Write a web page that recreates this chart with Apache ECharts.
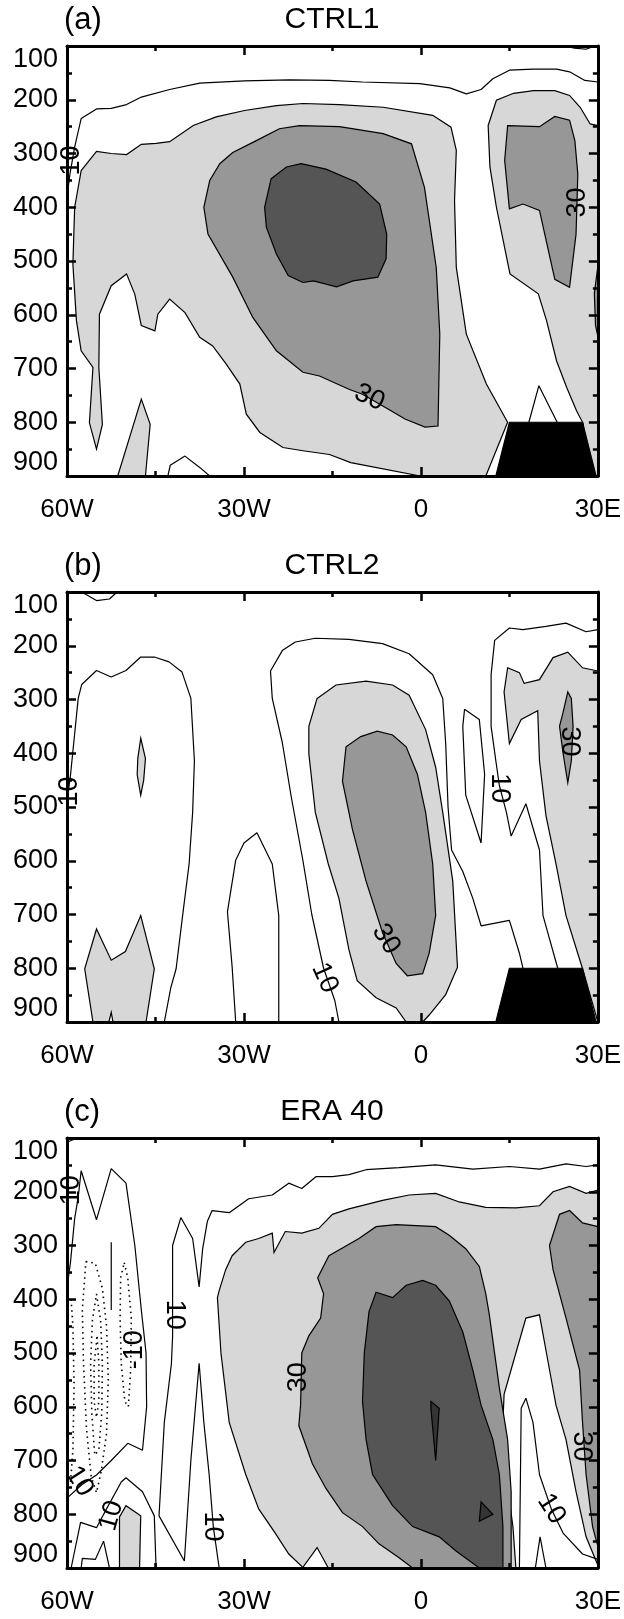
<!DOCTYPE html>
<html>
<head>
<meta charset="UTF-8">
<title>CTRL1 / CTRL2 / ERA 40</title>
<script src="https://cdn.jsdelivr.net/npm/echarts@6/dist/echarts.min.js"></script>
<style>
  html, body { margin: 0; padding: 0; background: #fff; }
  #main { width: 624px; height: 1619px; }
</style>
</head>
<body>
<div id="main"></div>
<script type="text/javascript">
// axes (longitude, pressure hPa)
var xTicks = [-60, -30, 0, 30];
var xTickLabels = ['60W', '30W', '0', '30E'];
var yTicks = [100, 200, 300, 400, 500, 600, 700, 800, 900];
var panelTitles = ['(a)', '(b)', '(c)'];
var panelNames = ['CTRL1', 'CTRL2', 'ERA 40'];

// ---- panel (a) CTRL1 : [lon, p] vertices
var aLines = [
  [[-60,381],[-59.5,338],[-58.7,288],[-57.6,235],[-55,217],[-52.5,216],[-49.9,209],[-47.4,195],[-42.6,181],[-37.5,169],[-29.9,165],[-22.3,163],[-15.5,164],[-9.9,167],[-0.2,170],[4.9,178],[7.7,189],[10.2,181],[12.2,161],[15,145],[19,143],[23,143],[25.2,148],[27.8,164],[30,167]],
  [[-42.9,900],[-42.5,880],[-40,863],[-37.5,884],[-35.8,900]],
  [[18.3,800],[20,732],[23.1,800]]
];
var aFill20 = [
  [[-57.6,332],[-55,296],[-52.5,300],[-49.9,302],[-47.4,283],[-44.9,281],[-42.6,278],[-38.6,248],[-34.7,232],[-29.9,220],[-24.5,211],[-20,207],[-13.8,209],[-6.4,214],[2,229],[5.1,251],[6,294],[5.7,388],[6,512],[7.7,636],[11.1,729],[14.7,800],[11,900],[-0.1,900],[-11.9,875],[-15.5,860],[-20,853],[-23.4,847],[-27.3,819],[-29.6,785],[-30.7,729],[-33,692],[-35.3,658],[-37.5,642],[-40,596],[-42.6,571],[-44.6,599],[-45.1,630],[-47.4,620],[-48.5,562],[-49.9,524],[-52.5,546],[-54.5,599],[-54.6,698],[-54,804],[-55,850],[-56.2,801],[-55.6,698],[-57.6,667],[-58.4,611],[-59,506],[-58.7,400]],
  [[-51.4,900],[-47.4,757],[-45.9,804],[-46.7,900]],
  [[11.4,248],[12.8,201],[15.7,188],[19.1,183],[22.7,183],[25.2,192],[27,214],[28.7,245],[30,248],[30,900],[28.5,900],[27.5,802],[26.4,779],[24.7,735],[23,686],[21.3,611],[19.9,561],[15.1,524],[12.8,400],[11.7,325]],
  [[24.5,100],[26,104],[28,106],[29.5,100]]
];
var aFill30 = [
  [[-35.8,350],[-36.8,400],[-36.1,450],[-31.9,530],[-28.5,605],[-24.5,667],[-20,707],[-17.2,714],[-12.1,739],[-9.9,748],[-5,779],[-2.7,794],[0.7,809],[2.9,807],[3.2,636],[2.6,512],[0.6,363],[-1.6,282],[-6.4,263],[-13.8,250],[-20.6,248],[-24,254],[-27.9,276],[-31.9,298],[-34.1,319]],
  [[14.7,248],[20.1,250],[22.7,231],[25.2,238],[26.1,276],[26.6,338],[26.3,450],[25.2,549],[22.7,534],[20.1,406],[17.3,394],[15,403],[14.2,313]],
  [[30,510],[29.4,560],[29.6,620],[30,640]]
];
var aFill40 = [
  [[-25.4,347],[-22.8,325],[-20.3,319],[-16.1,329],[-11,353],[-7,394],[-5.8,450],[-5.9,496],[-7.3,530],[-11.5,537],[-14.3,548],[-18.2,537],[-20,540],[-22.5,527],[-24.5,487],[-26.2,437],[-26.5,400]]
];
var aTerrain = [[[15,800],[27.4,800],[29.7,900],[12.7,900]]];
var aLabels = [[-59.3,313,'10'],[-8.7,754,'30'],[26.6,391,'30']];

// ---- panel (b) CTRL2
var bLines = [
  [[-57.5,100],[-55,116],[-52.8,113],[-51.5,100]],
  [[-60,490],[-59.4,440],[-58.1,298],[-57.5,272],[-55,246],[-52.5,258],[-50,246],[-47.5,221],[-45.2,221],[-42.7,230],[-40.5,249],[-39,298],[-38.4,414],[-38.7,510],[-39.3,606],[-40.4,702],[-41.5,801],[-42.4,836],[-43.5,900]],
  [[-31.4,900],[-32,798],[-32.8,695],[-31.4,599],[-30,567],[-27.8,548],[-25.2,606],[-24.1,702],[-24.1,900]],
  [[-13.9,900],[-14.6,860],[-16.5,800],[-18.5,700],[-20,600],[-22,480],[-23.5,380],[-25.2,298],[-25.5,247],[-23.5,209],[-21.3,193],[-17.9,186],[-12.2,188],[-6.5,196],[-2,215],[2,254],[3.7,298],[4.2,382],[4.6,500],[5.2,580],[7.1,620],[8.8,670],[10.2,721],[15,711],[16.7,772],[17.3,800]],
  [[7.4,318],[9.9,337],[10.8,439],[10.2,567],[7.6,478],[7.1,350],[7.4,318]],
  [[30,170],[28,174],[24.6,158],[21.2,164],[17.3,170],[15,167],[12.5,190],[11.9,254],[11.9,350],[12.7,414],[13.3,460],[14.5,510],[15.3,554],[17.8,494],[20.1,580],[20.7,702],[23.2,800]]
];
var bFill20 = [
  [[-47.5,372],[-46.7,410],[-47,450],[-47.5,478],[-48.1,440],[-48,410]],
  [[-55.6,900],[-57,801],[-55,727],[-52.5,785],[-50.1,769],[-47.5,702],[-45.2,801],[-46.6,900],[-52.2,900],[-52.5,882],[-52.9,900]],
  [[-17.6,298],[-14.4,273],[-9.3,266],[-4.8,273],[-2,292],[0.8,356],[2.5,426],[3.7,510],[5.4,638],[6.2,798],[4.2,849],[1.4,887],[0.3,900],[-2.5,900],[-4.2,874],[-7.6,855],[-10.8,823],[-12.2,766],[-13.9,670],[-15.7,606],[-17.9,510],[-19,401],[-19,350]],
  [[14.7,241],[16.7,250],[17.5,270],[20.1,263],[22.4,222],[24.9,212],[27.4,241],[30,247],[30,900],[27.4,801],[24.6,702],[22.9,606],[21.2,516],[20.1,414],[19.8,321],[17,337],[15,382],[14.1,286]]
];
var bFill30 = [
  [[-13.3,452],[-12.7,388],[-10.2,369],[-7.4,359],[-4.8,366],[-2.5,388],[-0.6,439],[0.8,510],[2,606],[2.5,702],[1.4,772],[0.3,810],[-2.3,814],[-4.2,791],[-6.5,734],[-9.3,638],[-11.6,542]],
  [[24.1,324],[24.9,286],[25.5,298],[25.8,350],[25.5,414],[24.9,455],[24.1,400],[23.5,350]]
];
var bTerrain = [[[15,800],[27.4,800],[29.7,900],[12.7,900]]];
var bLabels = [[-59.5,471,'10'],[13.3,465,'10'],[25.2,378,'30'],[-5.9,746,'30'],[-16.3,818,'10']];

// ---- panel (c) ERA 40
var cLines = [
  [[30,150],[28,153],[24.6,148],[20.1,158],[15,153],[8.8,158],[2.5,150],[-3.7,155],[-9.3,159],[-12.2,168],[-15,172],[-17.8,172],[-20.2,194],[-22.4,184],[-25.2,206],[-29.2,213],[-32.5,239],[-35.4,235],[-36.2,255],[-37,306],[-37.6,377],[-38.7,287],[-40.7,248],[-42.1,300],[-42.1,377],[-42.1,470],[-42.3,520],[-43.5,629],[-44.4,803],[-40.1,887],[-39,700],[-37.6,519],[-36.8,629],[-35.9,726],[-35.2,823],[-34.2,900]],
  [[-60,380],[-59.4,330],[-58.7,250],[-58.1,210],[-57.6,161],[-55,252],[-52.5,157],[-50,184],[-48.5,300],[-47.4,420],[-46.6,500],[-46.5,600],[-47.2,681],[-49.7,668],[-52.5,700],[-55,727],[-57.5,745],[-60,770]],
  [[-60,108],[-58.3,100]],
  [[-59.3,900],[-57.7,815],[-55,825],[-53.3,790],[-50.8,740],[-50,732],[-47.2,758],[-45.2,803],[-44.9,900]],
  [[-57.6,900],[-57.4,882],[-55.2,884],[-53.8,850],[-52.8,900]],
  [[-52.5,294],[-52.5,420]],
  [[16.7,900],[17,603],[17.8,584],[19,629],[20.1,726],[22.1,790],[24.1,835],[27.4,874],[30,884]],
  [[19.4,900],[20.2,842],[21.2,900]]
];
var cDotted = [
  [[-56.8,330],[-55.2,333],[-54,380],[-53.3,450],[-53,550],[-53.3,650],[-54.2,720],[-55,760],[-55.9,730],[-56.7,640],[-57.2,520],[-57.4,420],[-56.8,330]],
  [[-55,390],[-54.3,440],[-54,520],[-54.1,610],[-54.6,680],[-55.3,690],[-55.8,610],[-56,520],[-55.7,440],[-55,390]],
  [[-54.9,470],[-54.6,520],[-54.6,590],[-55,620],[-55.4,590],[-55.4,520],[-54.9,470]],
  [[-50.3,332],[-49.7,360],[-49.1,435],[-49.2,530],[-49.6,600],[-50.2,590],[-50.8,520],[-51,435],[-50.9,360],[-50.3,332]],
  [[-59.3,400],[-59,450],[-58.8,560],[-59,680],[-59.4,740]]
];
var cFill20 = [
  [[-34.5,397],[-34.2,384],[-33.1,345],[-32,319],[-29.7,294],[-27.5,287],[-25.2,277],[-24.9,313],[-23,274],[-20.2,277],[-17.3,268],[-15,242],[-12.2,232],[-6.5,216],[-2,206],[2.5,203],[6.5,219],[11,229],[16.1,230],[20.1,226],[22.4,200],[25.2,190],[28,203],[30,197],[30,895],[28,842],[26.3,758],[24.6,661],[22.9,597],[21.5,513],[20.1,429],[17.8,435],[16.1,500],[14.1,577],[13.9,629],[14.4,726],[15.6,823],[16.1,900],[-15.7,900],[-17.6,862],[-20.1,900],[-20.2,897],[-22.4,874],[-24.7,835],[-27.5,790],[-29.7,726],[-32.5,629],[-33.9,500]],
  [[-51.1,900],[-51.1,805],[-50,784],[-47.5,803],[-47.7,900]]
];
var cFill30 = [
  [[-15.6,319],[-10.5,287],[-7.6,265],[-4.2,261],[2.5,265],[4.8,281],[7.6,306],[9.9,339],[11,390],[11.6,429],[13.3,565],[14.7,661],[15.3,758],[15.3,900],[-1.4,900],[-3.7,881],[-7.1,855],[-9.9,823],[-13.3,797],[-16.1,752],[-18.4,706],[-20.7,635],[-20.4,597],[-20.2,500],[-19,468],[-17,435],[-16.5,390],[-17.5,360]],
  [[21.8,300],[23.5,242],[25.2,235],[27.4,258],[30,265],[30,860],[29.1,823],[28,726],[27.4,629],[26.9,532],[24.6,435],[22.4,345]]
];
var cFill40 = [
  [[-8.8,423],[-7.6,387],[-4.8,397],[-2.5,374],[0.3,365],[2.5,374],[4.8,403],[7.1,461],[8.8,532],[10.2,597],[12.2,661],[13.3,726],[13.9,823],[13.9,900],[9.9,900],[5.9,868],[3.1,842],[-1.4,823],[-4.8,784],[-8.2,726],[-9.3,661],[-9.9,590],[-9.6,500]]
];
var cFill50 = [
  [[1.7,590],[3.1,603],[2.5,700],[1.7,603]],
  [[10.2,777],[12.2,800],[9.9,813]]
];
var cLabels = [[-59.3,197,'10'],[-41.8,429,'10'],[-48.6,494,'-10'],[-20.7,545,'30'],[-35.4,823,'10'],[-57.9,739,'10'],[-52.5,803,'10'],[27.2,674,'30'],[22.1,790,'10']];

// text angles of the contour labels (radians, counter-clockwise)
var labelAngles = [
  [Math.PI / 2, -0.45, Math.PI / 2],
  [Math.PI / 2, -Math.PI / 2, -Math.PI / 2, -1.0, -1.15],
  [Math.PI / 2, -Math.PI / 2, Math.PI / 2, Math.PI / 2, -Math.PI / 2, -1.0, 1.3, -Math.PI / 2, -1.0]
];

var FONT = "'Liberation Sans', Arial, Helvetica, sans-serif";
var shade = { f20: '#d7d7d7', f30: '#979797', f40: '#555555', f50: '#343434', terrain: '#000000' };
var gridTops = [46, 592, 1138];
var GRID_H = 430;

var panels = [
  { lines: aLines, dotted: [], fills: [[aFill20, shade.f20], [aFill30, shade.f30], [aFill40, shade.f40]], terrain: aTerrain, labels: aLabels },
  { lines: bLines, dotted: [], fills: [[bFill20, shade.f20], [bFill30, shade.f30]], terrain: bTerrain, labels: bLabels },
  { lines: cLines, dotted: cDotted, fills: [[cFill20, shade.f20], [cFill30, shade.f30], [cFill40, shade.f40], [cFill50, shade.f50]], terrain: [], labels: cLabels }
];

function polySeries(gi, polys, color, z) {
  return {
    type: 'custom', xAxisIndex: gi * 2, yAxisIndex: gi * 2, silent: true, z: z, clip: true,
    data: polys.map(function (p) { return p[0]; }),
    renderItem: function (params, api) {
      var pts = polys[params.dataIndex].map(function (pt) { return api.coord(pt); });
      return { type: 'polygon', shape: { points: pts },
        style: { fill: color, stroke: '#000', lineWidth: 1.2 } };
    }
  };
}

function lineSeries(gi, pts, type) {
  return {
    type: 'line', xAxisIndex: gi * 2, yAxisIndex: gi * 2, silent: true, z: 5,
    data: pts, symbol: 'none', showSymbol: false,
    lineStyle: { color: '#000', width: type === 'dotted' ? 1.6 : 1.2, type: type === 'dotted' ? [1.5, 4] : type }
  };
}

function labelSeries(gi, labels, angles) {
  return {
    type: 'custom', xAxisIndex: gi * 2, yAxisIndex: gi * 2, silent: true, z: 8,
    data: labels.map(function (l) { return [l[0], l[1]]; }),
    renderItem: function (params, api) {
      var c = api.coord([api.value(0), api.value(1)]);
      return { type: 'text', x: c[0], y: c[1], rotation: angles[params.dataIndex],
        style: { text: labels[params.dataIndex][2], fill: '#000', fontSize: 27, fontFamily: FONT,
          align: 'center', verticalAlign: 'middle' } };
    }
  };
}

var grids = [], xAxes = [], yAxes = [], series = [], titles = [];
var axisLine = { show: true, onZero: false, lineStyle: { color: '#000', width: 3 } };
var tick = { show: true, inside: true, length: 9, lineStyle: { color: '#000', width: 2.5 } };
var minor = { show: true, splitNumber: 2, length: 5, lineStyle: { color: '#000', width: 2.5 } };

panels.forEach(function (pn, gi) {
  grids.push({ left: 67, width: 531, top: gridTops[gi], height: GRID_H, show: false });
  ['bottom', 'top'].forEach(function (pos) {
    xAxes.push({
      gridIndex: gi, type: 'value', position: pos, min: xTicks[0], max: xTicks[xTicks.length - 1], interval: 30,
      axisLine: axisLine, axisTick: tick, minorTick: minor, z: 10,
      splitLine: { show: false }, minorSplitLine: { show: false },
      axisLabel: {
        show: pos === 'bottom', margin: 21, fontSize: 26, color: '#000', fontFamily: FONT,
        formatter: function (v) { var i = xTicks.indexOf(v); return i >= 0 ? xTickLabels[i] : ''; }
      }
    });
  });
  ['left', 'right'].forEach(function (pos) {
    yAxes.push({
      gridIndex: gi, type: 'value', position: pos, inverse: true, min: yTicks[0], max: yTicks[yTicks.length - 1], interval: 100,
      axisLine: axisLine, axisTick: tick, minorTick: minor, z: 10,
      splitLine: { show: false }, minorSplitLine: { show: false },
      axisLabel: {
        show: pos === 'left', margin: 9, fontSize: 27, color: '#000', fontFamily: FONT,
        verticalAlignMinLabel: 'top', verticalAlignMaxLabel: 'bottom',
        formatter: function (v) { return String(v); }
      }
    });
  });
  pn.fills.forEach(function (f, k) { series.push(polySeries(gi, f[0], f[1], 2 + k * 0.1)); });
  pn.lines.forEach(function (l) { series.push(lineSeries(gi, l, 'solid')); });
  pn.dotted.forEach(function (l) { series.push(lineSeries(gi, l, 'dotted')); });
  if (pn.terrain.length) {
    series.push(polySeries(gi, pn.terrain, shade.terrain, 6));
  }
  series.push(labelSeries(gi, pn.labels, labelAngles[gi]));

  var tTop = gridTops[gi] - 41;
  titles.push({ text: panelTitles[gi], left: 64, top: tTop, padding: 0,
    textStyle: { fontSize: 31, fontWeight: 'normal', color: '#000', fontFamily: FONT } });
  titles.push({ text: panelNames[gi], left: 332, top: tTop, padding: 0, textAlign: 'center',
    textStyle: { fontSize: 30, fontWeight: 'normal', color: '#000', fontFamily: FONT } });
});

var chart = echarts.init(document.getElementById('main'));
chart.setOption({
  animation: false,
  backgroundColor: '#fff',
  title: titles,
  grid: grids,
  xAxis: xAxes,
  yAxis: yAxes,
  series: series
});
</script>
</body>
</html>
